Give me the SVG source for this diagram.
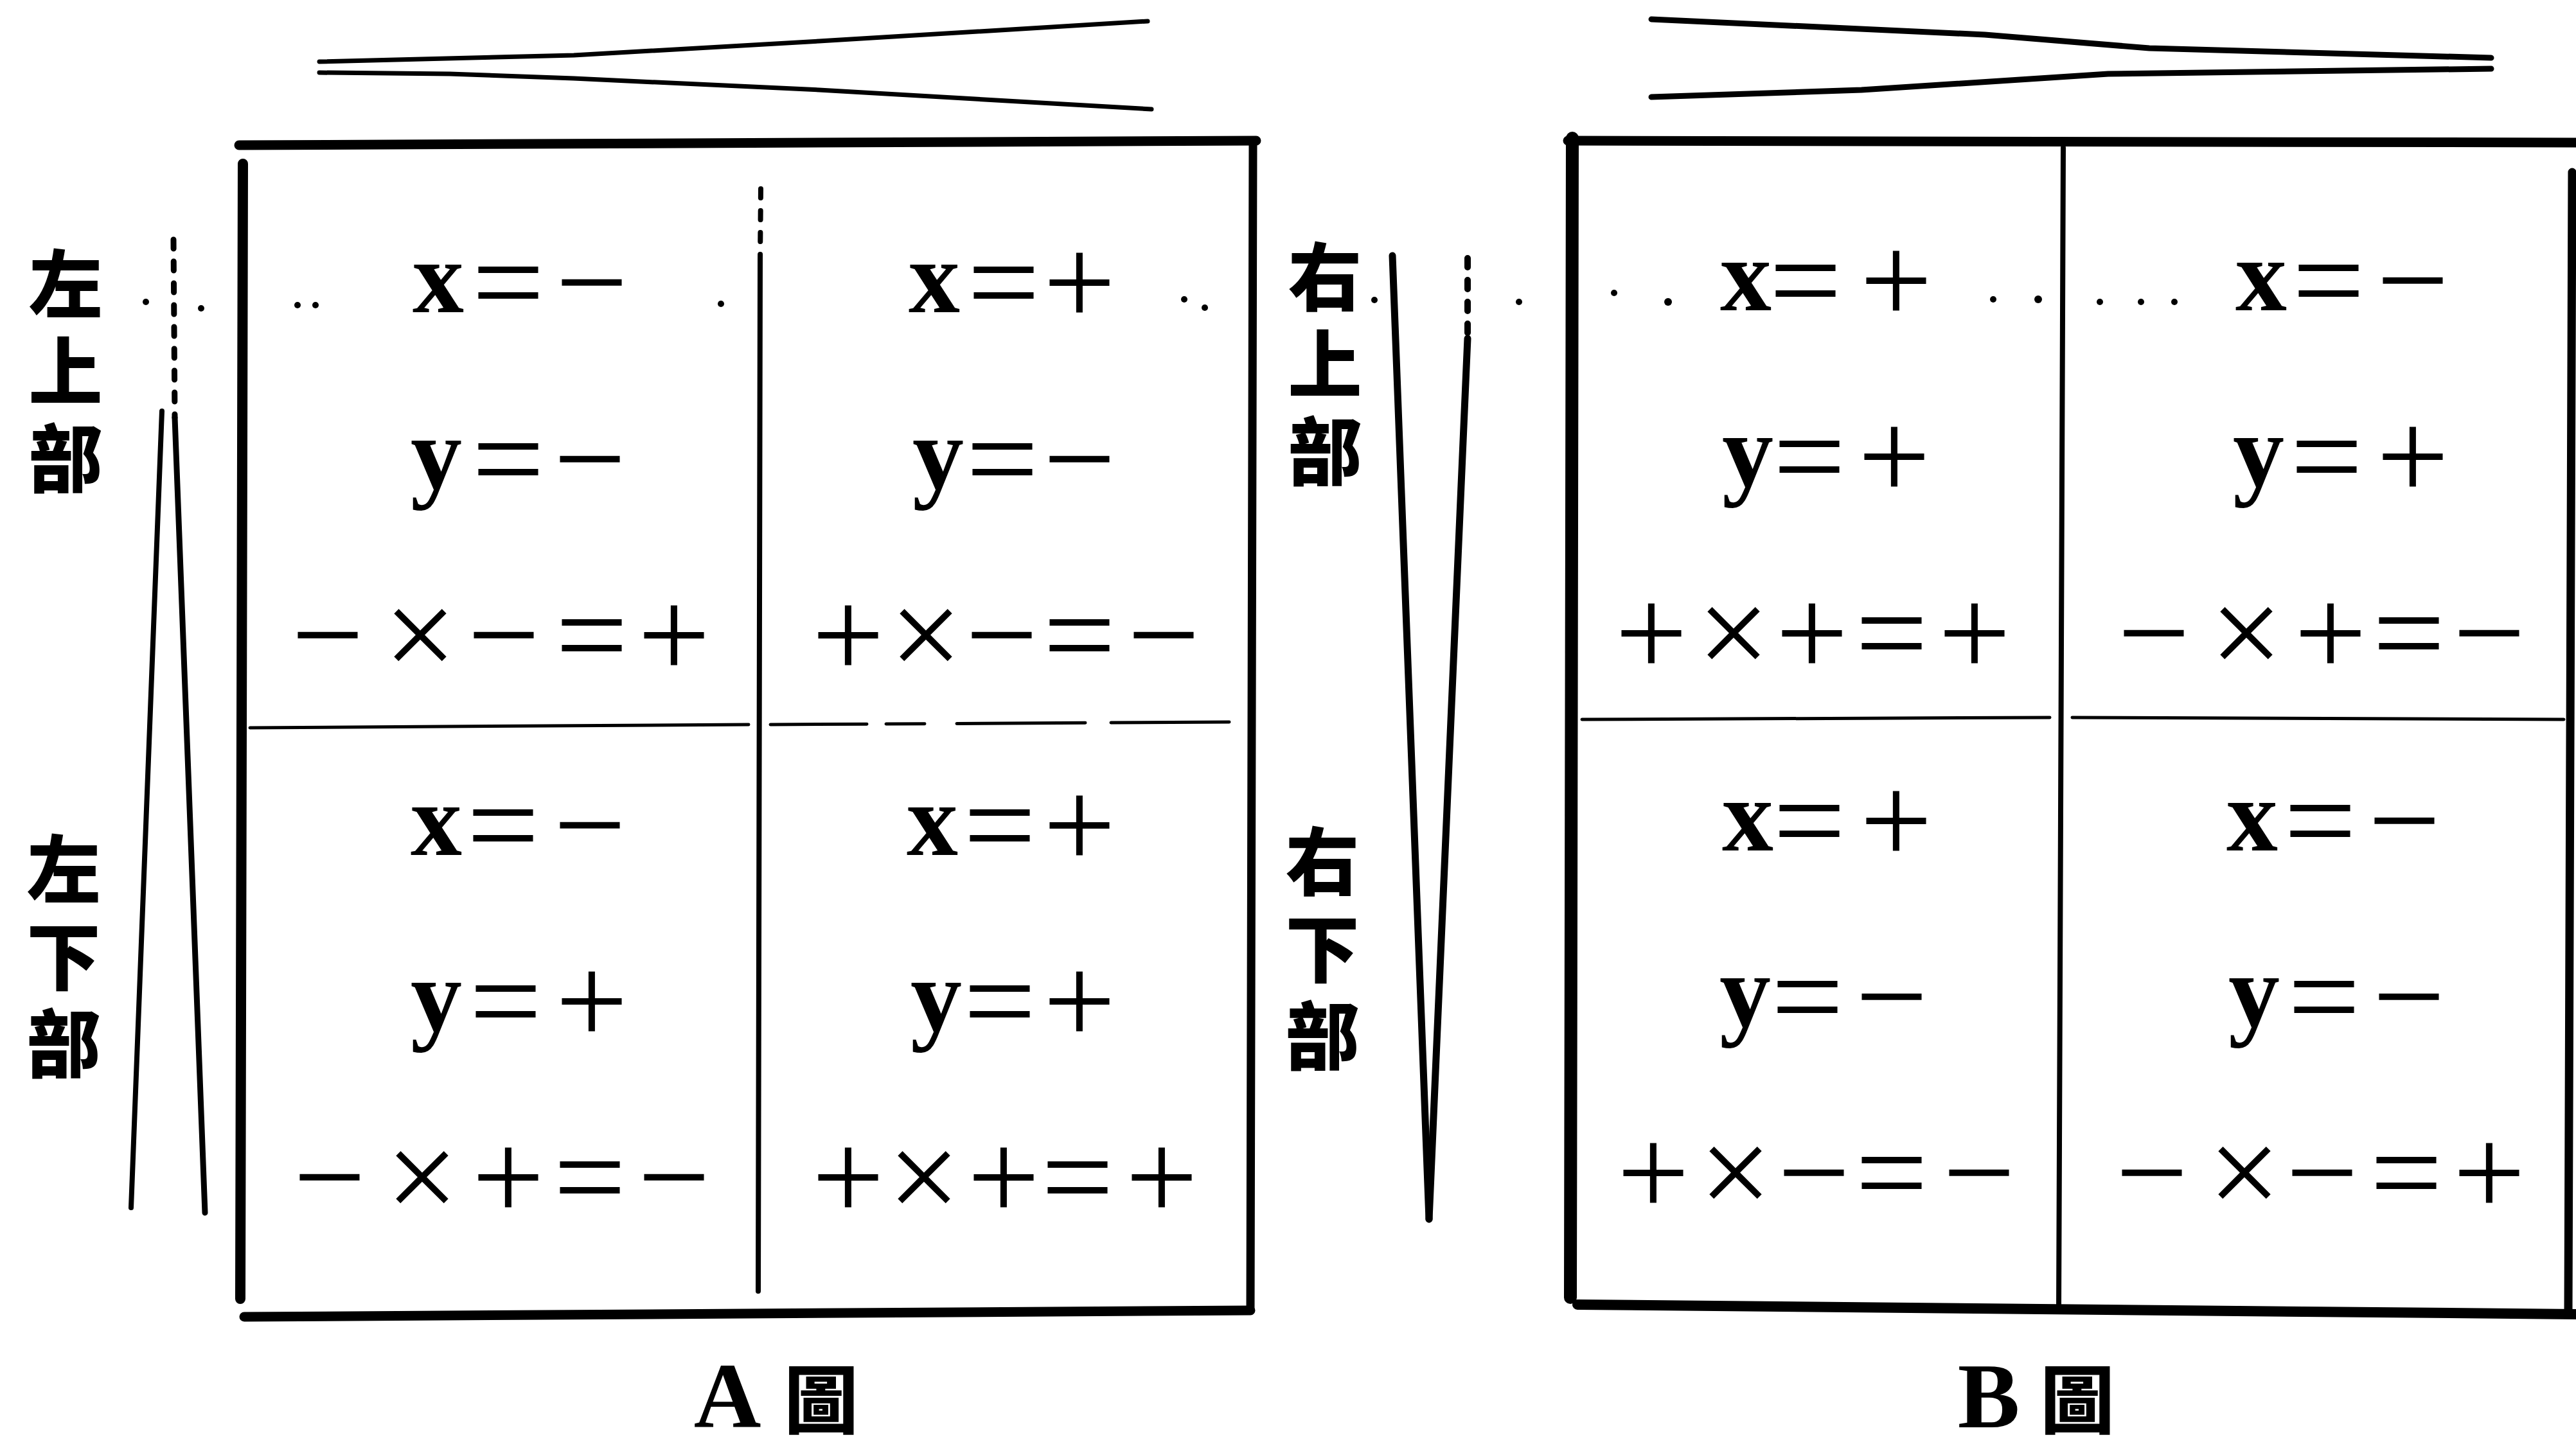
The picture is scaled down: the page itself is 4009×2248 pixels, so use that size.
<svg xmlns="http://www.w3.org/2000/svg" width="4009" height="2248" viewBox="0 0 4009 2248">
<style>
.bg{fill:#fff}
.ln{fill:none;stroke:#000;stroke-linecap:round;stroke-linejoin:round}
.dash{stroke-dasharray:14 20}
.o{font-family:"Liberation Serif","Times New Roman",serif;font-size:200px;text-anchor:middle;fill:#000}
.v{font-family:"Liberation Serif","Times New Roman",serif;font-size:160px;font-weight:bold}
.cjk{font-family:"Noto Sans CJK TC","Noto Sans CJK SC",sans-serif;font-weight:900;font-size:115px;text-anchor:middle;fill:#000}
.vt{font-family:"Noto Sans CJK TC","Noto Sans CJK SC",sans-serif;font-weight:900;font-size:115px;fill:#000;writing-mode:vertical-rl;text-orientation:upright;letter-spacing:21px}
.cap{font-family:"Liberation Serif","Times New Roman",serif;font-weight:bold;font-size:145px;text-anchor:middle;fill:#000}
.dot{fill:#000}
</style>
<rect class="bg" x="0" y="0" width="4009" height="2248"/>

<g id="connectors">
  <g id="A-top-lines">
    <path class="ln" stroke-width="7" d="M497,96 L893,86 L1275,64 L1786,33"/>
    <path class="ln" stroke-width="7" d="M497,113 L700,115 L893,122 L1275,140 L1792,170"/>
  </g>
  <g id="B-top-lines">
    <path class="ln" stroke-width="9" d="M2570,30 L3089,54 L3345,75 L3877,90"/>
    <path class="ln" stroke-width="9" d="M2570,151 L2897,140 L3281,115 L3877,107"/>
  </g>
  <g id="A-side-lines">
    <path class="ln dash" stroke-width="9" d="M270,373 L272,650"/>
    <path class="ln" stroke-width="9" d="M272,650 L319,1888"/>
    <path class="ln" stroke-width="8" d="M252,640 L204,1880"/>
  </g>
  <g id="B-side-lines">
    <path class="ln" stroke-width="11" d="M2167,398 L2224,1898"/>
    <path class="ln dash" stroke-width="10" d="M2284,402 L2284,527"/>
    <path class="ln" stroke-width="11" d="M2284,527 L2224,1898"/>
  </g>
  <g id="leaders">
    <circle class="dot" cx="227" cy="470" r="5"/>
    <circle class="dot" cx="313" cy="480" r="5"/>
    <circle class="dot" cx="463" cy="475" r="5"/>
    <circle class="dot" cx="491" cy="475" r="5"/>
    <circle class="dot" cx="1122" cy="473" r="5"/>
    <circle class="dot" cx="1843" cy="466" r="5"/>
    <circle class="dot" cx="1875" cy="479" r="5"/>
    <circle class="dot" cx="2139" cy="467" r="5"/>
    <circle class="dot" cx="2364" cy="470" r="5"/>
    <circle class="dot" cx="2512" cy="456" r="5"/>
    <circle class="dot" cx="2596" cy="470" r="6"/>
    <circle class="dot" cx="3102" cy="466" r="5"/>
    <circle class="dot" cx="3172" cy="466" r="6"/>
    <circle class="dot" cx="3268" cy="470" r="5"/>
    <circle class="dot" cx="3332" cy="470" r="5"/>
    <circle class="dot" cx="3384" cy="470" r="5"/>
  </g>
</g>

<g id="A-frame">
  <path class="ln" stroke-width="15" d="M372,226 L1955,219"/>
  <path class="ln" stroke-width="16" d="M378,255 L374,2022"/>
  <path class="ln" stroke-width="13" d="M1950,222 L1946,2036"/>
  <path class="ln" stroke-width="15" d="M380,2050 L1946,2040"/>
  <path class="ln dash" stroke-width="8" d="M1184,294 L1183,405"/>
  <path class="ln" stroke-width="8" d="M1183,405 L1180,2010"/>
  <path class="ln" stroke-width="5" d="M389,1133 L1165,1128"/>
  <path class="ln" stroke-width="5" stroke-dasharray="150 30 60 50 200 40 230" d="M1199,1128 L1913,1124"/>
</g>

<g id="B-frame">
  <path class="ln" stroke-width="15" d="M2440,219 L4009,222"/>
  <path class="ln" stroke-width="20" d="M2447,215 L2444,2020"/>
  <path class="ln" stroke-width="13" d="M4003,268 L3997,2040"/>
  <path class="ln" stroke-width="16" d="M2455,2031 L4009,2046"/>
  <path class="ln" stroke-width="8" d="M3211,230 L3204,2040"/>
  <path class="ln" stroke-width="5" d="M2462,1120 L3190,1117"/>
  <path class="ln" stroke-width="5" d="M3225,1117 L3990,1120"/>
</g>

<g id="A-labels">
  <g id="A-upper-label"><text class="vt" x="102" y="384">左上部</text></g>
  <g id="A-lower-label"><text class="vt" x="99" y="1295">左下部</text></g>
</g>
<g id="B-labels">
  <g id="B-upper-label"><text class="vt" x="2062" y="373">右上部</text></g>
  <g id="B-lower-label"><text class="vt" x="2058" y="1283">右下部</text></g>
</g>

<g id="A-TL">
  <text class="o"><tspan class="v" x="682" y="486">x</tspan><tspan x="791" y="506">=</tspan><tspan x="921" y="506">−</tspan></text>
  <text class="o"><tspan class="v" x="679" y="761">y</tspan><tspan x="791" y="781">=</tspan><tspan x="918" y="781">−</tspan></text>
  <text class="o" y="1055"><tspan x="510">−</tspan><tspan x="654">×</tspan><tspan x="784">−</tspan><tspan x="921">=</tspan><tspan x="1049">+</tspan></text>
</g>
<g id="A-TR">
  <text class="o"><tspan class="v" x="1454" y="486">x</tspan><tspan x="1562" y="506">=</tspan><tspan x="1680" y="506">+</tspan></text>
  <text class="o"><tspan class="v" x="1460" y="761">y</tspan><tspan x="1560" y="781">=</tspan><tspan x="1680" y="781">−</tspan></text>
  <text class="o" y="1055"><tspan x="1320">+</tspan><tspan x="1441">×</tspan><tspan x="1559">−</tspan><tspan x="1680">=</tspan><tspan x="1811">−</tspan></text>
</g>
<g id="A-BL">
  <text class="o"><tspan class="v" x="679" y="1331">x</tspan><tspan x="783" y="1351">=</tspan><tspan x="918" y="1351">−</tspan></text>
  <text class="o"><tspan class="v" x="679" y="1605">y</tspan><tspan x="787" y="1625">=</tspan><tspan x="921" y="1625">+</tspan></text>
  <text class="o" y="1899"><tspan x="513">−</tspan><tspan x="657">×</tspan><tspan x="791">+</tspan><tspan x="918">=</tspan><tspan x="1049">−</tspan></text>
</g>
<g id="A-BR">
  <text class="o"><tspan class="v" x="1451" y="1331">x</tspan><tspan x="1556" y="1351">=</tspan><tspan x="1680" y="1351">+</tspan></text>
  <text class="o"><tspan class="v" x="1457" y="1605">y</tspan><tspan x="1556" y="1625">=</tspan><tspan x="1680" y="1625">+</tspan></text>
  <text class="o" y="1899"><tspan x="1320">+</tspan><tspan x="1438">×</tspan><tspan x="1562">+</tspan><tspan x="1677">=</tspan><tspan x="1808">+</tspan></text>
</g>

<g id="B-TL">
  <text class="o"><tspan class="v" x="2717" y="483">x</tspan><tspan x="2810" y="503">=</tspan><tspan x="2951" y="503">+</tspan></text>
  <text class="o"><tspan class="v" x="2720" y="757">y</tspan><tspan x="2816" y="777">=</tspan><tspan x="2948" y="777">+</tspan></text>
  <text class="o" y="1052"><tspan x="2570">+</tspan><tspan x="2698">×</tspan><tspan x="2820">+</tspan><tspan x="2944">=</tspan><tspan x="3073">+</tspan></text>
</g>
<g id="B-TR">
  <text class="o"><tspan class="v" x="3519" y="483">x</tspan><tspan x="3624" y="503">=</tspan><tspan x="3755" y="503">−</tspan></text>
  <text class="o"><tspan class="v" x="3515" y="757">y</tspan><tspan x="3621" y="777">=</tspan><tspan x="3755" y="777">+</tspan></text>
  <text class="o" y="1052"><tspan x="3352">−</tspan><tspan x="3496">×</tspan><tspan x="3627">+</tspan><tspan x="3749">=</tspan><tspan x="3874">−</tspan></text>
</g>
<g id="B-BL">
  <text class="o"><tspan class="v" x="2720" y="1324">x</tspan><tspan x="2816" y="1344">=</tspan><tspan x="2951" y="1344">+</tspan></text>
  <text class="o"><tspan class="v" x="2716" y="1598">y</tspan><tspan x="2813" y="1618">=</tspan><tspan x="2944" y="1618">−</tspan></text>
  <text class="o" y="1892"><tspan x="2573">+</tspan><tspan x="2701">×</tspan><tspan x="2823">−</tspan><tspan x="2944">=</tspan><tspan x="3080">−</tspan></text>
</g>
<g id="B-BR">
  <text class="o"><tspan class="v" x="3505" y="1324">x</tspan><tspan x="3611" y="1344">=</tspan><tspan x="3742" y="1344">−</tspan></text>
  <text class="o"><tspan class="v" x="3508" y="1598">y</tspan><tspan x="3617" y="1618">=</tspan><tspan x="3749" y="1618">−</tspan></text>
  <text class="o" y="1892"><tspan x="3349">−</tspan><tspan x="3493">×</tspan><tspan x="3614">−</tspan><tspan x="3745">=</tspan><tspan x="3874">+</tspan></text>
</g>

<g id="A-caption"><text class="cap" x="1132" y="2222">A</text><text class="cjk" x="1278" y="2222" font-size="125">圖</text></g>
<g id="B-caption"><text class="cap" x="3095" y="2222">B</text><text class="cjk" x="3233" y="2222" font-size="125">圖</text></g>
</svg>
